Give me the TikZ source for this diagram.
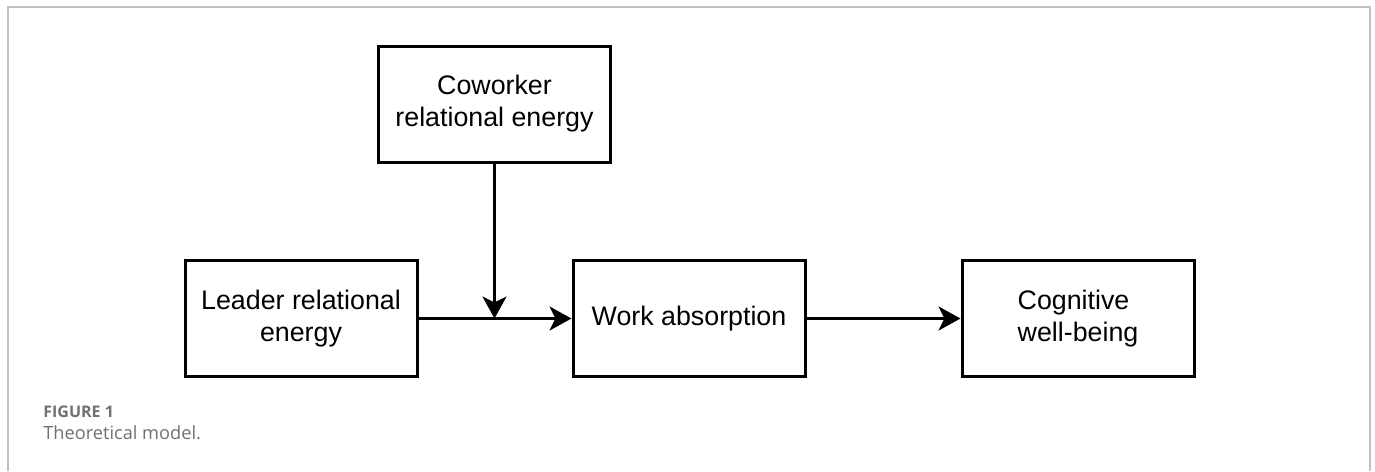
\documentclass[tikz,border=0pt]{standalone}
\usepackage{fontspec}
\setmainfont{Liberation Sans}
\newfontfamily\captionfont{Open Sans}
\usepackage{tikz}
\usetikzlibrary{positioning,arrows.meta}
\definecolor{framegray}{RGB}{192,192,192}
\definecolor{captiongray}{RGB}{112,112,112}
\tikzset{
  modelbox/.style={draw, line width=1.5pt, align=center, font=\fontsize{13.4}{16}\selectfont,
    minimum width=116pt, minimum height=58pt, inner sep=2pt, fill=white},
  modelarrow/.style={-{Stealth[length=11pt, width=12pt, inset=3pt]}, line width=1.5pt},
  framestyle/.style={draw=framegray, line width=0.6pt},
  captionlabel/.style={anchor=base west, inner sep=0pt, text=captiongray},
}

\begin{document}
\begin{tikzpicture}[x=0.5pt, y=-0.5pt]
  \useasboundingbox (0,0) rectangle (1375,471);
  \draw[framestyle] (8,471) -- (8,7) -- (1370,7) -- (1370,471);
  \node[modelbox] (cow) at (494.5,104) {Coworker\\relational energy};
  \node[modelbox] (lead) at (301,318.5) {Leader relational\\energy};
  \node[modelbox] (work) at (689,318.5) {Work absorption};
  \node[modelbox, align=left] (cog) at (1078,318.5) {Cognitive\\well-being};
  \coordinate (mod) at (cow.south |- lead.east);
  \draw[modelarrow] (lead.east) -- (work.west);
  \draw[modelarrow] (cow.south) -- (mod);
  \draw[modelarrow] (work.east) -- (cog.west);
  \node[captionlabel, font=\captionfont\bfseries\fontsize{8}{9}\selectfont] (fignum) at (43,417) {FIGURE 1};
  \node[captionlabel, font=\captionfont\fontsize{9.1}{10}\selectfont] (figtitle) at (43,439) {Theoretical model.};
\end{tikzpicture}
\end{document}
